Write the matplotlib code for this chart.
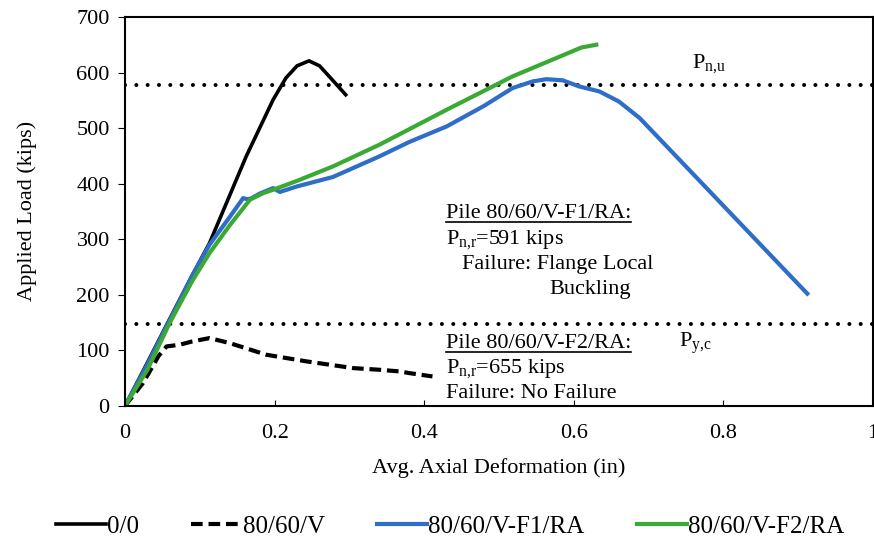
import matplotlib
matplotlib.use("Agg")
import matplotlib.pyplot as plt
from matplotlib.lines import Line2D

plt.rcParams['font.family'] = ['Liberation Serif', 'DejaVu Serif']
plt.rcParams['mathtext.fontset'] = 'custom'
plt.rcParams['mathtext.rm'] = 'Liberation Serif'

# load-deformation curves
x_00 = [0, 0.03, 0.06, 0.09, 0.113, 0.14, 0.162, 0.18, 0.198, 0.215, 0.23, 0.246, 0.26, 0.275, 0.295]
y_00 = [0, 78, 157, 235, 293, 379, 449, 500, 551, 590, 612, 621, 612, 590, 560]

x_v = [0, 0.024, 0.045, 0.0556, 0.073, 0.09, 0.113, 0.14, 0.189, 0.243, 0.305, 0.34, 0.367, 0.38, 0.411]
y_v = [0, 41, 90, 107, 110, 116, 122, 113, 92, 80, 68, 65, 62, 59, 53]

x_f1 = [0, 0.03, 0.06, 0.09, 0.113, 0.14, 0.158, 0.163, 0.168, 0.18, 0.198, 0.207, 0.23, 0.278,
        0.34, 0.38, 0.43, 0.48, 0.518, 0.545, 0.563, 0.585, 0.607, 0.634, 0.66, 0.688, 0.912]
y_f1 = [0, 75, 155, 235, 290, 340, 374, 372, 373, 382, 392, 385, 395, 412,
        449, 475, 503, 540, 572, 584, 588, 586, 575, 566, 548, 518, 202]

x_f2 = [0, 0.03, 0.06, 0.09, 0.113, 0.14, 0.167, 0.185, 0.198, 0.23, 0.278, 0.34, 0.43, 0.518, 0.58, 0.61, 0.63]
y_f2 = [0, 65, 150, 225, 275, 325, 371, 383, 389, 405, 431, 470, 533, 593, 628, 645, 650]

P_nu = 577
P_yc = 148

x_ticks = [0, 0.2, 0.4, 0.6, 0.8, 1]
y_ticks = [0, 100, 200, 300, 400, 500, 600, 700]

fig = plt.figure(figsize=(8.74, 5.47), dpi=100)
ax = fig.add_axes([0.143, 0.258, 0.856, 0.711])

ax.axhline(P_nu, color='black', lw=2.9, linestyle=(0, (0.01, 2.8)), dash_capstyle='round')
ax.axhline(P_yc, color='black', lw=2.9, linestyle=(0, (0.01, 2.8)), dash_capstyle='round')

ax.plot(x_00, y_00, color='black', lw=2.6, label='0/0')
ax.plot(x_v, y_v, color='black', lw=3, linestyle=(0, (2.8, 1.4)), label='80/60/V')
ax.plot(x_f1, y_f1, color='#2e6dc8', lw=3, label='80/60/V-F1/RA')
ax.plot(x_f2, y_f2, color='#3aaa35', lw=3, label='80/60/V-F2/RA')

ax.set_xlim(0, 1)
ax.set_ylim(0, 700)
ax.set_xticks(x_ticks)
ax.set_xticklabels(['0', '0.2', '0.4', '0.6', '0.8', '1'])
ax.set_yticks(y_ticks)
ax.tick_params(axis='x', direction='in', length=4, pad=13, labelsize=16)
ax.tick_params(axis='y', direction='out', length=5, pad=6, labelsize=16)
for s in ax.spines.values():
    s.set_linewidth(1.5)

ax.set_xlabel('Avg. Axial Deformation (in)', fontsize=16)
ax.set_ylabel('Applied Load (kips)', fontsize=16)
ax.xaxis.set_label_coords(0.5, -0.134)
ax.yaxis.set_label_coords(-0.118, 0.5)

fs = 16
ax.text(0.758, 617, r'$\mathregular{P_{n{,}u}}$', fontsize=fs, va='center')
ax.text(0.741, 113, r'$\mathregular{P_{y{,}c}}$', fontsize=fs, va='center')

t1 = ax.text(0.4286, 347, 'Pile 80/60/V-F1/RA:', fontsize=fs, va='center')
ax.text(0.4286, 300, r'$\mathregular{P_{n{,}r}}$=591 kips', fontsize=fs, va='center')
ax.text(0.45, 254, 'Failure: Flange Local', fontsize=fs, va='center')
ax.text(0.567, 209, 'Buckling', fontsize=fs, va='center')

t2 = ax.text(0.4286, 113, 'Pile 80/60/V-F2/RA:', fontsize=fs, va='center')
ax.text(0.4286, 68, r'$\mathregular{P_{n{,}r}}$=655 kips', fontsize=fs, va='center')
ax.text(0.4286, 23, 'Failure: No Failure', fontsize=fs, va='center')

fig.legend(loc='center', bbox_to_anchor=(0.515, 0.037), ncol=4, frameon=False,
           fontsize=18, handlelength=2.0, handletextpad=0.05, columnspacing=2.1)

# underline the two pile headings
fig.canvas.draw()
W, H = fig.get_size_inches() * fig.dpi
for t in (t1, t2):
    bb = t.get_window_extent()
    yy = (bb.y0 + 1) / H
    fig.add_artist(Line2D([bb.x0 / W, bb.x1 / W], [yy, yy], color='black', lw=1.2))

fig.savefig('out.png', dpi=100)
